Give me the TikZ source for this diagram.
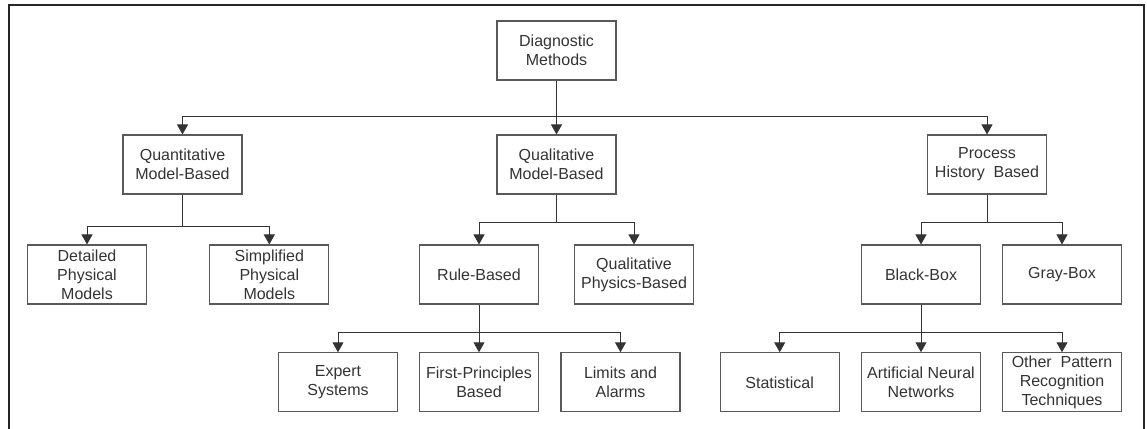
\documentclass[tikz,border=0pt]{standalone}
\usepackage{fontspec}
\setmainfont{Liberation Sans}
\usetikzlibrary{arrows.meta}
\begin{document}
\begin{tikzpicture}[x=1pt,y=-1pt,
  box/.style={draw=black!65, line width=1.1pt, minimum width=119pt, minimum height=59pt,
    inner sep=1pt, align=center, text=black!80,
    font=\fontsize{16pt}{19pt}\selectfont},
  link/.style={draw=black!80, line width=1pt},
  arr/.style={link, -{Triangle[width=11pt,length=10pt]}}]
  \useasboundingbox (0,0) rectangle (1147,428);
  % outer frame, open at the bottom
  \draw[line width=1.8pt, black!85] (9,440) -- (9,5) -- (1144,5) -- (1144,440);

  % root
  \node[box] (dm) at (556.5,50.5) {Diagnostic\\Methods};
  % first level
  \node[box] (quant) at (182.5,164.5) {Quantitative\\Model-Based};
  \node[box] (qual)  at (556.5,164.5) {Qualitative\\Model-Based};
  \node[box] (phb)   at (987,164.5)   {Process\\History~ Based};
  % second level
  \node[box] (det)   at (87,274.5)    {Detailed\\Physical\\Models};
  \node[box] (simp)  at (269.3,274.5) {Simplified\\Physical\\Models};
  \node[box] (rule)  at (479,274.5)   {Rule-Based};
  \node[box] (qphys) at (634,274.5)   {Qualitative\\Physics-Based};
  \node[box] (bb)    at (921,274.5)   {Black-Box};
  \node[box] (gb)    at (1062,274.5)  {Gray-Box};
  % third level
  \node[box] (exp)   at (338,382.3)   {Expert\\Systems};
  \node[box] (fp)    at (479,382.3)   {First-Principles\\Based};
  \node[box] (lim)   at (620.5,382.3) {Limits and\\Alarms};
  \node[box] (stat)  at (779.7,382.3) {Statistical};
  \node[box] (ann)   at (921,382.3)   {Artificial Neural\\Networks};
  \node[box] (other) at (1062,382.3)  {Other~ Pattern\\Recognition\\Techniques};

  % bus levels
  \coordinate (b0) at (0,116);
  \coordinate (b1) at (0,226.7);
  \coordinate (b2) at (0,222.7);
  \coordinate (b3) at (0,332.3);

  % root -> first level
  \draw[arr] (dm.south) -- (qual.north);
  \draw[arr] (dm.south |- b0) -| (quant.north);
  \draw[arr] (dm.south |- b0) -| (phb.north);

  % quantitative branch
  \draw[link] (quant.south) -- (quant.south |- b1);
  \draw[arr] (quant.south |- b1) -| (det.north);
  \draw[arr] (quant.south |- b1) -| (simp.north);

  % qualitative branch
  \draw[link] (qual.south) -- (qual.south |- b2);
  \draw[arr] (qual.south |- b2) -| (rule.north);
  \draw[arr] (qual.south |- b2) -| (qphys.north);

  % process history branch
  \draw[link] (phb.south) -- (phb.south |- b2);
  \draw[arr] (phb.south |- b2) -| (bb.north);
  \draw[arr] (phb.south |- b2) -| (gb.north);

  % rule-based branch
  \draw[arr] (rule.south) -- (fp.north);
  \draw[arr] (rule.south |- b3) -| (exp.north);
  \draw[arr] (rule.south |- b3) -| (lim.north);

  % black-box branch
  \draw[arr] (bb.south) -- (ann.north);
  \draw[arr] (bb.south |- b3) -| (stat.north);
  \draw[arr] (bb.south |- b3) -| (other.north);
\end{tikzpicture}
\end{document}
